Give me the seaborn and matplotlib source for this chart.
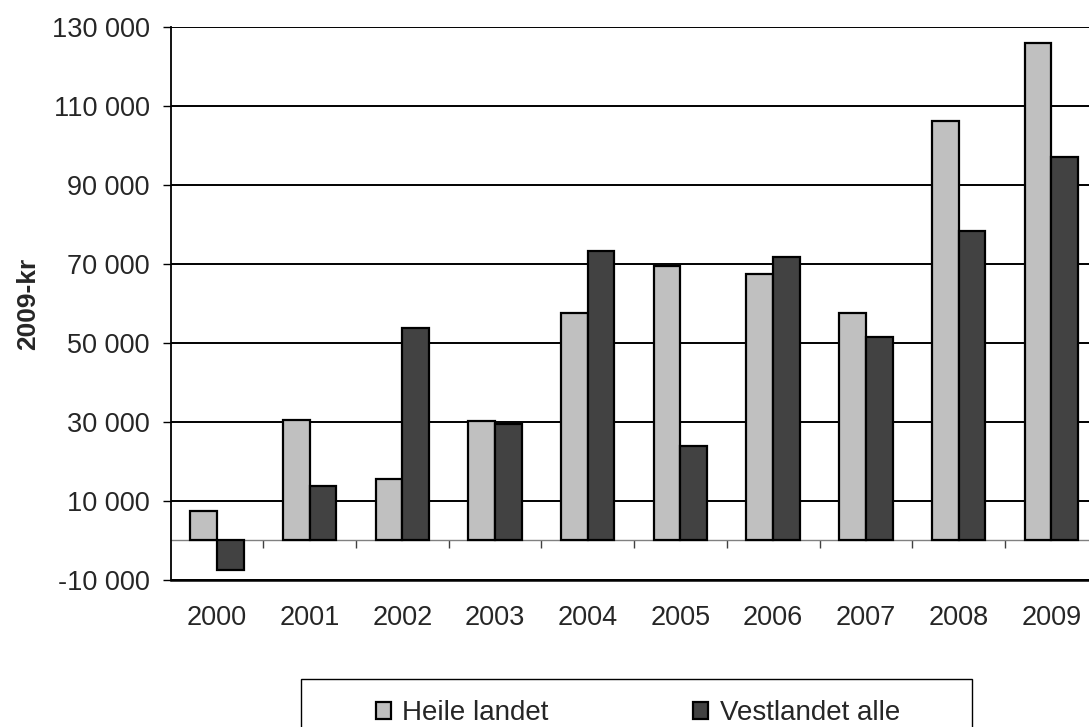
import numpy as np
import pandas as pd
import matplotlib
import matplotlib.pyplot as plt
import seaborn as sns
from matplotlib.patches import Rectangle
from matplotlib.ticker import FuncFormatter

matplotlib.use('Agg')

# Data (2009-kr)
years = ['2000', '2001', '2002', '2003', '2004', '2005', '2006', '2007', '2008', '2009']
heile_landet = [7400, 30400, 15600, 30200, 57600, 69500, 67400, 57700, 106300, 125900]
vestlandet_alle = [-7400, 13900, 53900, 29600, 73200, 23800, 71700, 51500, 78400, 97000]
series_names = ['Heile landet', 'Vestlandet alle']
y_ticks = list(range(-10000, 130001, 20000))

df = pd.DataFrame({
    'year': years * 2,
    'value': heile_landet + vestlandet_alle,
    'series': [series_names[0]] * len(years) + [series_names[1]] * len(years),
})

sns.set_style('white')
plt.rcParams['font.family'] = ['Liberation Sans', 'DejaVu Sans']

fig = plt.figure(figsize=(10.89, 7.27), dpi=100)
ax = fig.add_axes([0.1567, 0.2022, 0.8512, 0.7607])

# horizontal gridlines behind the bars
ax.set_axisbelow(True)
ax.yaxis.grid(True, color='black', linewidth=1.4)

sns.barplot(
    data=df, x='year', y='value', hue='series',
    palette=['#c0c0c0', '#424242'], saturation=1,
    width=0.576, gap=0, edgecolor='black', linewidth=1.6,
    ax=ax,
)

ax.set_ylim(-10000, 130000)
ax.set_xlim(-0.5, len(years) - 0.5)
ax.set_yticks(y_ticks)
ax.yaxis.set_major_formatter(FuncFormatter(lambda v, p: f'{int(v):,}'.replace(',', ' ')))
ax.tick_params(axis='y', which='major', direction='out', length=6, width=1,
               color='black', pad=9, labelsize=19.5, left=True)
ax.tick_params(axis='x', which='major', length=0, pad=18, labelsize=19.5)

for side in ['top', 'right']:
    ax.spines[side].set_visible(False)
ax.spines['left'].set_color('black')
ax.spines['left'].set_linewidth(1.3)
ax.spines['bottom'].set_color('black')
ax.spines['bottom'].set_linewidth(1.8)

ax.set_xlabel('')
ax.set_ylabel('2009-kr', fontsize=19, fontweight='bold')
ax.yaxis.set_label_coords(-0.141, 0.5)

# category axis crossing at zero with tick marks between categories
zero_axis = ax.secondary_xaxis(0, transform=ax.transData)
zero_axis.set_xticks(np.arange(0.5, len(years) - 0.5, 1.0))
zero_axis.set_xticklabels([])
zero_axis.tick_params(direction='out', length=6, width=1, color='#404040')
zero_axis.spines['bottom'].set_color('#808080')
zero_axis.spines['bottom'].set_linewidth(1)

# legend in a box at the bottom
ax.get_legend().remove()
handles = [plt.Rectangle((0, 0), 1, 1, facecolor=c, edgecolor='black', linewidth=1.6)
           for c in ['#c0c0c0', '#424242']]
fig.legend(handles, series_names, loc='center left', bbox_to_anchor=(376 / 1089, 1 - 713 / 727),
           ncol=2, frameon=False, fontsize=20, handlelength=0.55, handleheight=0.55,
           handletextpad=0.4, columnspacing=5.2, borderpad=0, borderaxespad=0)
fig.patches.append(Rectangle((301 / 1089, -0.05), 671 / 1089, 0.05 + 1 - 679 / 727,
                             transform=fig.transFigure, fill=False,
                             edgecolor='black', linewidth=1))

plt.savefig('out.png', dpi=100)
